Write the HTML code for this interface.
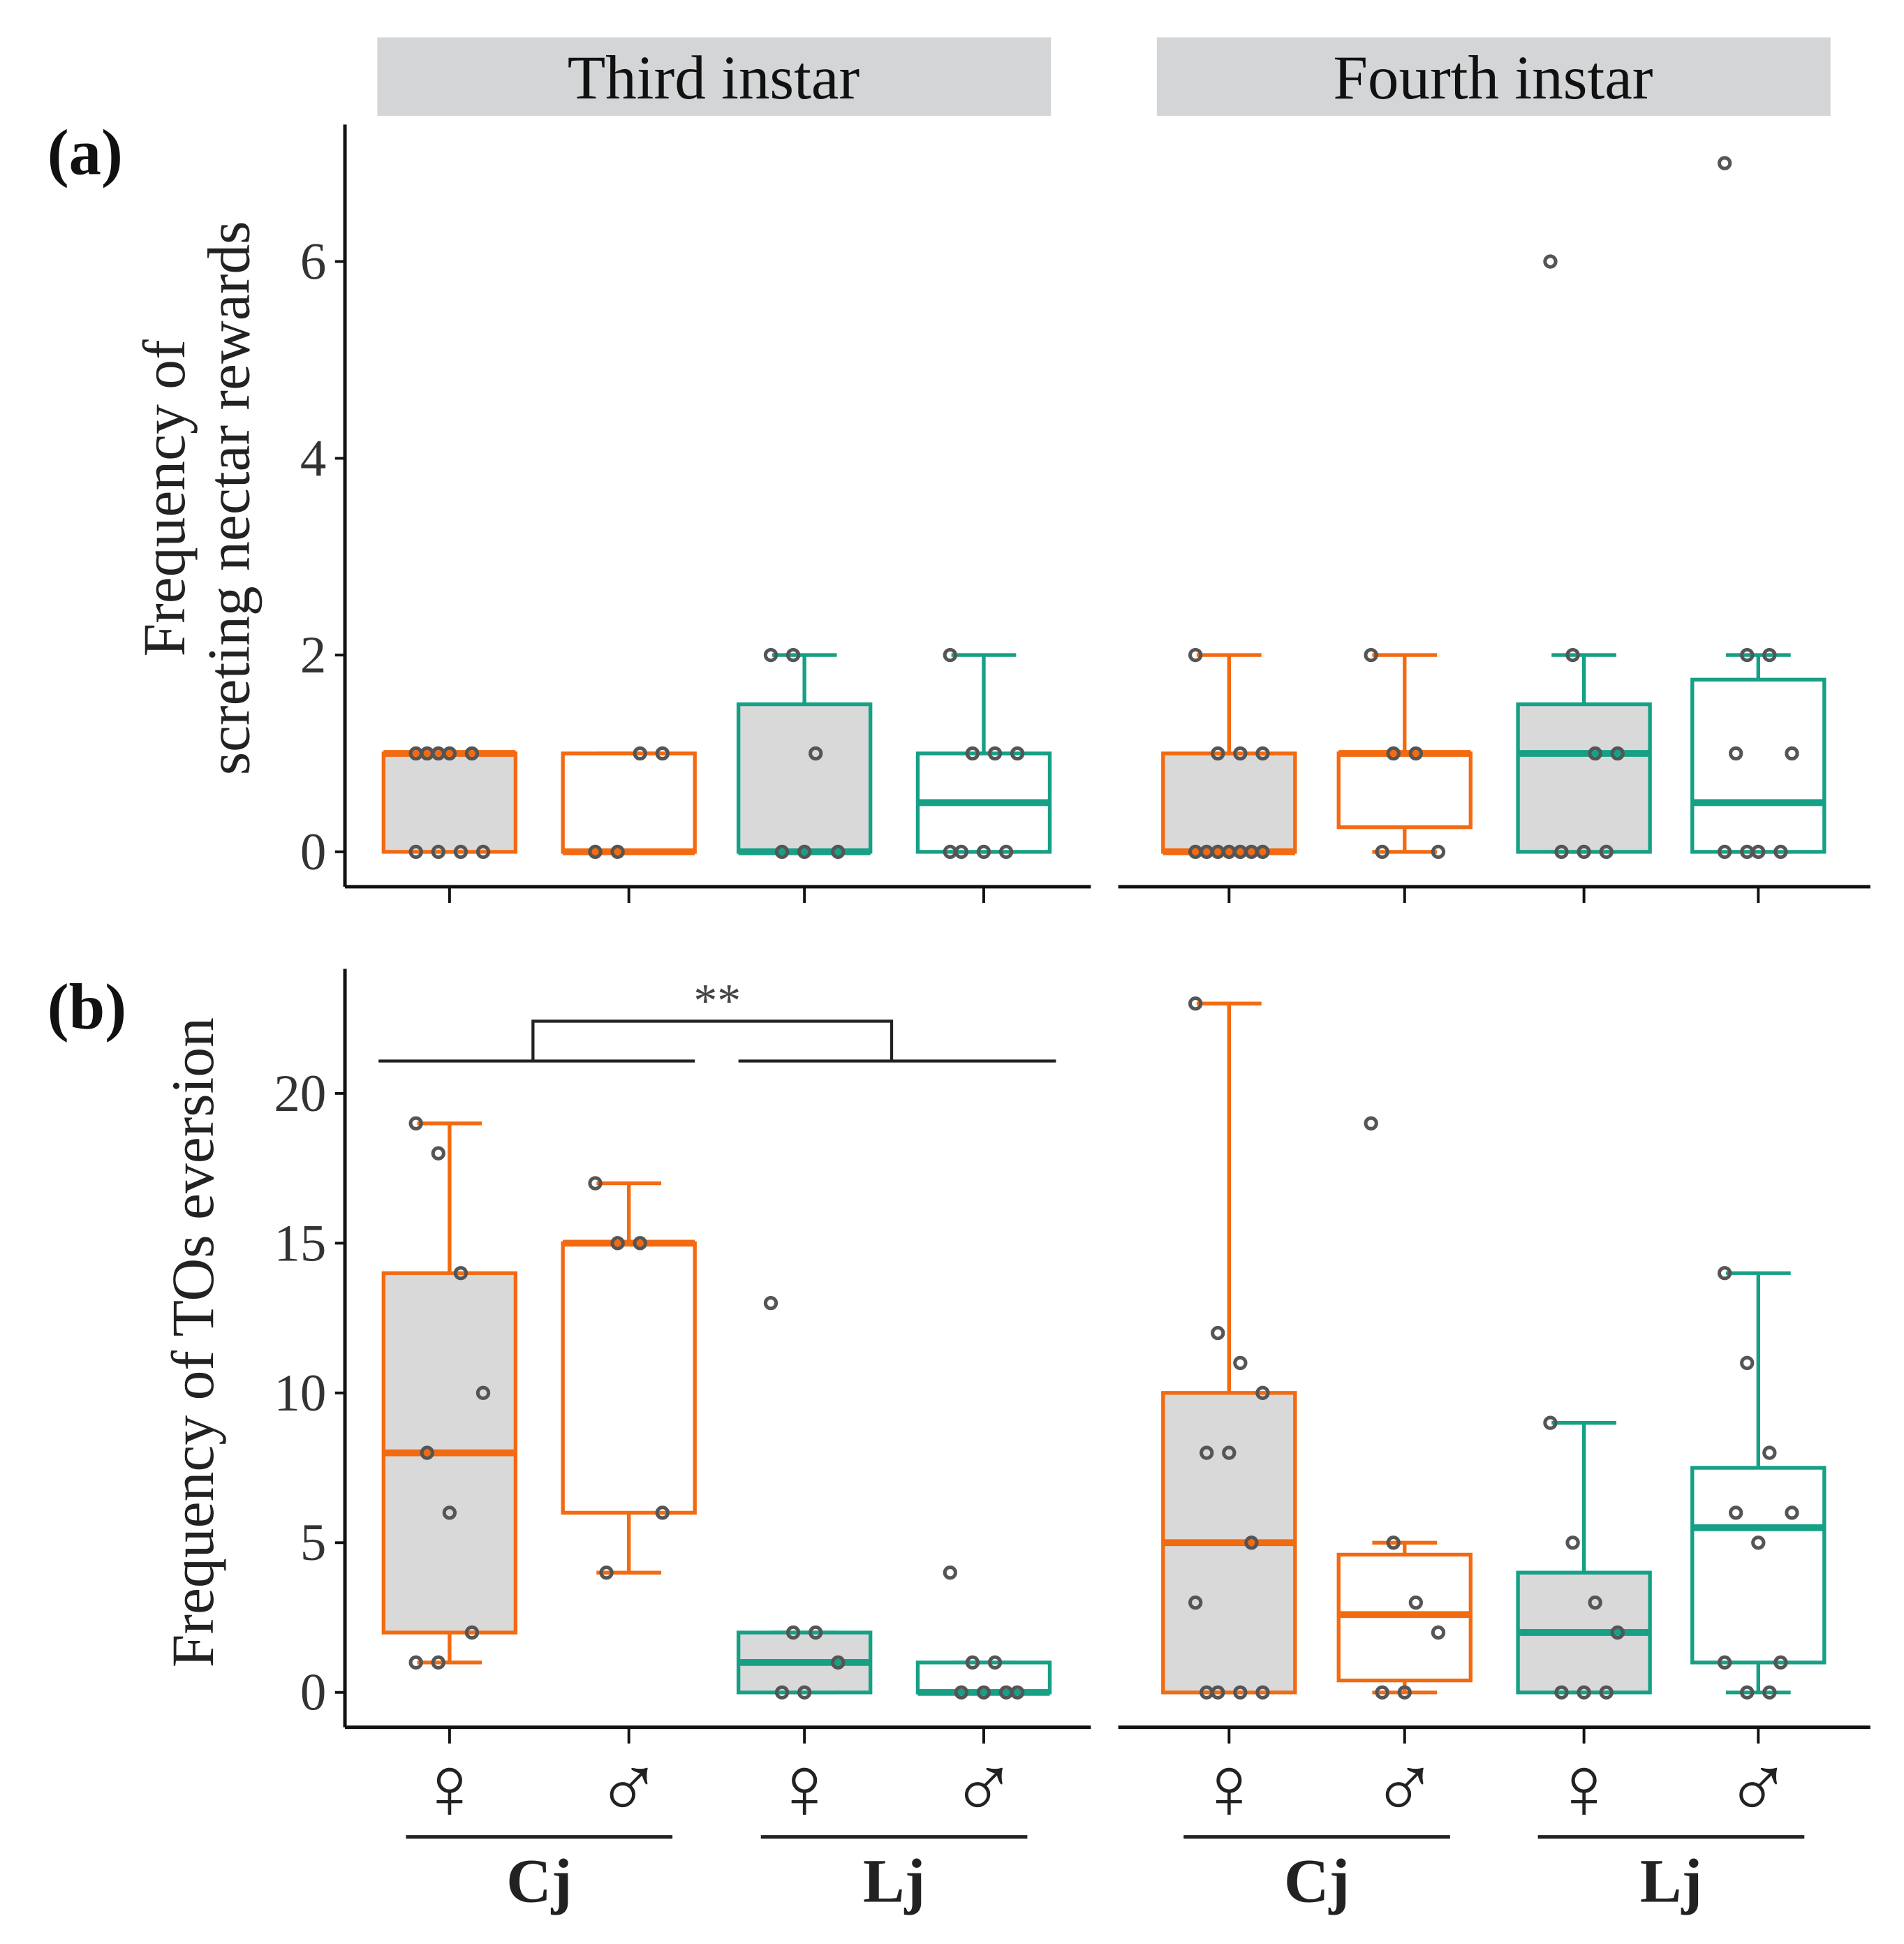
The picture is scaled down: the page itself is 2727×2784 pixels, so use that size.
<!DOCTYPE html>
<html><head><meta charset="utf-8"><style>
html,body{margin:0;padding:0;background:#fff}
svg{display:block}
text{font-family:"Liberation Serif","DejaVu Serif",serif}
</style></head><body>
<svg id="chart" width="2727" height="2784" viewBox="0 0 1529 1561" xmlns="http://www.w3.org/2000/svg">
<g id="static"></g>
<g id="marks"></g>
</svg>
<script>
// ---- data ----
const facets = ["Third instar","Fourth instar"];
const groups = ["Cj ♀","Cj ♂","Lj ♀","Lj ♂"];
// panel a: [lowWhisker, q1, median, q3, highWhisker]
const statsA = [
 [[0,0,1,1,1],[0,0,0,1,1],[0,0,0,1.5,2],[0,0,0.5,1,2]],
 [[0,0,0,1,2],[0,0.25,1,1,2],[0,0,1,1.5,2],[0,0,0.5,1.75,2]]
];
const pointsA = [
 [[0,0,0,0,1,1,1,1,1],[0,0,1,1],[2,2,1,0,0,0],[2,1,1,1,0,0,0,0]],
 [[2,1,1,1,0,0,0,0,0,0,0],[2,1,1,0,0],[6,2,1,1,0,0,0],[7,2,2,1,1,0,0,0,0]]
];
const statsB = [
 [[1,2,8,14,19],[4,6,15,15,17],[0,0,1,2,2],[0,0,0,1,1]],
 [[0,0,5,10,23],[0,0.4,2.6,4.6,5],[0,0,2,4,9],[0,1,5.5,7.5,14]]
];
const pointsB = [
 [[19,18,14,10,8,6,2,1,1],[17,15,15,6,4],[13,2,2,1,0,0],[4,1,1,0,0,0,0]],
 [[23,12,11,10,8,8,5,3,0,0,0,0],[19,5,3,2,0,0],[9,5,3,2,0,0,0],[14,11,8,6,6,5,1,1,0,0]]
];
const ticksA = [0,2,4,6];
const ticksB = [0,5,10,15,20];

// ---- layout ----
const NS="http://www.w3.org/2000/svg";
const ORANGE="#f36a10", GREEN="#16a085";
const catX=[[361,505,646,790],[987,1128,1272,1412]];
const panelX=[[277,876],[898,1502]];
function yA(v){return 684-v*79;}
function yB(v){return 1359-v*24.05;}
const st=document.getElementById('static'), mk=document.getElementById('marks');
function el(tag,attrs,parent,txt){const e=document.createElementNS(NS,tag);for(const k in attrs)e.setAttribute(k,attrs[k]);if(txt!==undefined)e.textContent=txt;(parent||st).appendChild(e);return e;}

// strips
facets.forEach((f,i)=>{
 const x0=[303,929][i];
 const r=el('rect',{x:x0,y:30,width:541,height:63,fill:'#d4d5d6'});
 
 
 const t=el('text',{x:x0+270,y:79,'font-size':50,'text-anchor':'middle',fill:'#111'},st,f);
 
 
});
// panel labels
let t=el('text',{x:38,y:140,'font-size':52,'font-weight':'bold',fill:'#111'},st,'(a)');

t=el('text',{x:38,y:826,'font-size':52,'font-weight':'bold',fill:'#111'},st,'(b)');

// y titles
t=el('text',{transform:'translate(148,400) rotate(-90)','font-size':48,'text-anchor':'middle',fill:'#222'},st,'Frequency of');

t=el('text',{transform:'translate(200,400) rotate(-90)','font-size':48,'text-anchor':'middle',fill:'#222'},st,'screting nectar rewards');

t=el('text',{transform:'translate(171,1078) rotate(-90)','font-size':48,'text-anchor':'middle',fill:'#222'},st,'Frequency of TOs eversion');


function axes(yTop,yBase,ticks,yf,name){
 let a=el('line',{x1:277,y1:yTop,x2:277,y2:yBase,stroke:'#111','stroke-width':2.8});
 
 ticks.forEach(v=>{
  el('line',{x1:269,y1:yf(v),x2:277,y2:yf(v),stroke:'#111','stroke-width':2.2});
  const tl=el('text',{x:262,y:yf(v)+14,'font-size':42,'text-anchor':'end',fill:'#333'},st,String(v));
  
 });
 panelX.forEach((px,i)=>{
  const xa=el('line',{x1:px[0],y1:yBase,x2:px[1],y2:yBase,stroke:'#111','stroke-width':2.8});
  
  catX[i].forEach(x=>el('line',{x1:x,y1:yBase,x2:x,y2:yBase+13,stroke:'#111','stroke-width':2.2}));
 });
}
axes(100,712,ticksA,yA,'panel-a');
axes(778,1387,ticksB,yB,'panel-b');

function drawBoxes(stats,pts,yf,name){
 stats.forEach((fs,fi)=>fs.forEach((s,gi)=>{
  const cx=catX[fi][gi], col=gi<2?ORANGE:GREEN, fill=gi%2===0?'#d9d9d9':'#fff';
  const g=el('g',{},mk);
  
  
  el('line',{x1:cx,y1:yf(s[4]),x2:cx,y2:yf(s[3]),stroke:col,'stroke-width':3},g);
  el('line',{x1:cx,y1:yf(s[0]),x2:cx,y2:yf(s[1]),stroke:col,'stroke-width':3},g);
  el('line',{x1:cx-26,y1:yf(s[4]),x2:cx+26,y2:yf(s[4]),stroke:col,'stroke-width':3},g);
  el('line',{x1:cx-26,y1:yf(s[0]),x2:cx+26,y2:yf(s[0]),stroke:col,'stroke-width':3},g);
  el('rect',{x:cx-53,y:yf(s[3]),width:106,height:Math.max(0,yf(s[1])-yf(s[3])),fill:fill,stroke:col,'stroke-width':3},g);
  el('line',{x1:cx-53,y1:yf(s[2]),x2:cx+53,y2:yf(s[2]),stroke:col,'stroke-width':5.5},g);
  pts[fi][gi].forEach((v,k)=>{
   const jit=((k*37)%7-3)*9;
   const c=el('circle',{cx:cx+jit,cy:yf(v),r:4.3,fill:'none',stroke:'#555','stroke-width':2.8},g);
   
   
  });
 }));
}
drawBoxes(statsA,pointsA,yA,'panel-a');
drawBoxes(statsB,pointsB,yB,'panel-b');

// significance bracket
const br=el('path',{d:'M304 852H558M593 852H848M428 852V820H716V852',fill:'none',stroke:'#222','stroke-width':2.4});

t=el('text',{x:576,y:816,'font-size':38,'text-anchor':'middle',fill:'#444'},st,'**');


// sex symbols and species labels
catX.forEach((xs,fi)=>{
 xs.forEach((x,gi)=>{
  const s=el('text',{x:x,y:1460,'font-size':72,'text-anchor':'middle',fill:'#222','font-family':'"DejaVu Sans",sans-serif'},st,gi%2===0?'♀':'♂');
  
 });
 [[0,1,'Cj'],[2,3,'Lj']].forEach(([a,b,lab])=>{
  const mid=(xs[a]+xs[b])/2;
  const l=el('line',{x1:mid-107,y1:1475,x2:mid+107,y2:1475,stroke:'#222','stroke-width':2.8});
  
  const tx=el('text',{x:mid,y:1527,'font-size':50,'font-weight':'bold','text-anchor':'middle',fill:'#222'},st,lab);
  
 });
});
</script>
</body></html>
